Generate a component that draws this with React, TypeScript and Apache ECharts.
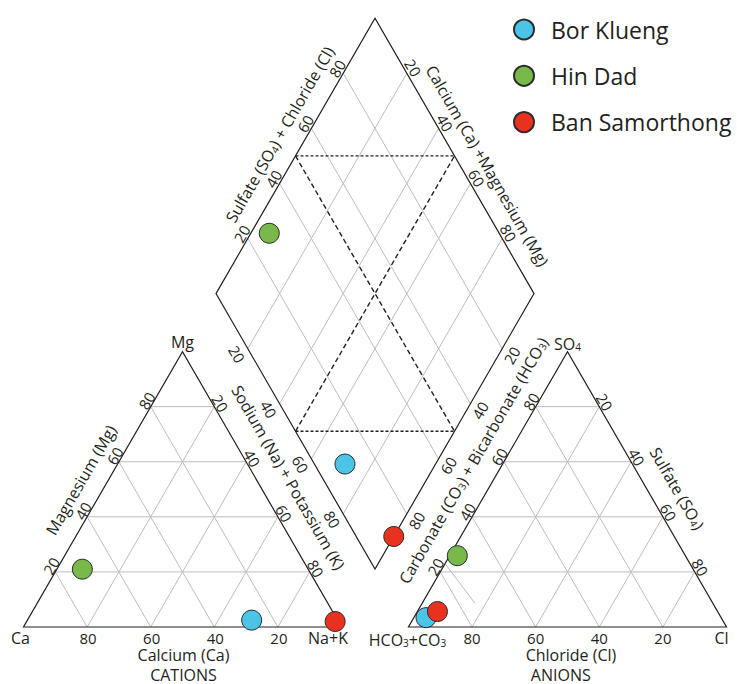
import React, { useEffect, useRef } from "react";
import * as echarts from "echarts";

// ---------- data (percent of meq) ----------
const SAMPLES = ["Bor Klueng", "Hin Dad", "Ban Samorthong"];
const COLORS = ["#4cc4e8", "#79b84a", "#e8321f"];

// cation triangle
const CATION_CA = [27, 71, 1];
const CATION_MG = [2.5, 21, 2];
const CATION_NAK = [70.5, 8, 97];

// anion triangle
const ANION_HCO3 = [92.8, 71.7, 88.1];
const ANION_SO4 = [3.4, 25.9, 5.6];
const ANION_CL = [3.8, 2.4, 6.3];

// diamond (Na+K %, SO4+Cl %)
const DIAMOND_NAK = [71.5, 5.8, 100];
const DIAMOND_SO4CL = [9.6, 27.7, 11.8];

const GRID_TICKS = [20, 40, 60, 80];

// stray grey segment in the anion triangle of the original figure [HCO3, SO4, Cl]
const ANION_STRAY_FROM = [77, 23, 0];
const ANION_STRAY_TO = [74.8, 8.7, 16.5];

// ---------- layout ----------
const GAP = 21.07; // gap between triangles, in triangle-side percent
const H = Math.sqrt(3) / 2;
const R0 = 100 + GAP; // x of the anion triangle's left vertex
const B = [100 + GAP / 2, (GAP / 2) * Math.sqrt(3)]; // diamond bottom vertex
const L = [B[0] - 50, B[1] + 100 * H]; // diamond left vertex

const cat = (ca: number, mg: number, nak: number) => [nak + mg / 2, mg * H];
const an = (hco3: number, so4: number, cl: number) => [R0 + cl + so4 / 2, so4 * H];
const dia = (nak: number, s: number) => [L[0] + 0.5 * (s + nak), L[1] + H * (s - nak)];

const FONT = "'Open Sans', 'Noto Sans', sans-serif";
const INK = "#231f20";
const DEG = Math.PI / 180;

const RICH = {
  a: { fontSize: 16, fontFamily: FONT, fill: INK, lineHeight: 18, verticalAlign: "bottom" },
  s: { fontSize: 10, fontFamily: FONT, fill: INK, lineHeight: 5, verticalAlign: "bottom" },
};

type TextSpec = { t: string; at: number[]; dx: number; dy: number; rot: number; size?: number; rich?: boolean };

function buildTexts(): TextSpec[] {
  const out: TextSpec[] = [];
  GRID_TICKS.forEach((v) => {
    const s = String(v);
    // cation triangle
    out.push({ t: s, at: cat(100 - v, v, 0), dx: -4, dy: -6, rot: 60 });
    out.push({ t: s, at: cat(0, 100 - v, v), dx: 6, dy: -3.5, rot: -60 });
    out.push({ t: s, at: cat(v, 0, 100 - v), dx: 1, dy: 10.5, rot: 0 });
    // diamond
    out.push({ t: s, at: dia(v, 0), dx: -10.9, dy: 5.4, rot: -60 });
    out.push({ t: s, at: dia(0, v), dx: -6, dy: -4.7, rot: 60 });
    out.push({ t: s, at: dia(v, 100), dx: 6.3, dy: -5.5, rot: -60 });
    out.push({ t: s, at: dia(100, 100 - v), dx: 9.7, dy: 6.6, rot: 60 });
    // anion triangle
    out.push({ t: s, at: an(100 - v, v, 0), dx: -4.7, dy: -5.1, rot: 60 });
    out.push({ t: s, at: an(0, 100 - v, v), dx: 5.5, dy: -4.7, rot: -60 });
    out.push({ t: s, at: an(v, 0, 100 - v), dx: 0, dy: 10.5, rot: 0 });
  });
  // vertex + axis titles
  out.push({ t: "Ca", at: cat(100, 0, 0), dx: -3, dy: 11, rot: 0, size: 16 });
  out.push({ t: "Na+K", at: cat(0, 0, 100), dx: -13.5, dy: 11, rot: 0, size: 16 });
  out.push({ t: "Mg", at: cat(0, 100, 0), dx: 0, dy: -10, rot: 0, size: 16 });
  out.push({ t: "Calcium (Ca)", at: cat(50, 0, 50), dx: 1, dy: 27.5, rot: 0, size: 16 });
  out.push({ t: "CATIONS", at: cat(50, 0, 50), dx: 1, dy: 47.5, rot: 0, size: 16 });
  out.push({ t: "Magnesium (Mg)", at: cat(50, 50, 0), dx: -22, dy: -9.3, rot: 60, size: 16 });
  out.push({ t: "Sodium (Na) + Potassium (K)", at: cat(0, 50, 50), dx: 26.3, dy: -11.8, rot: -60, size: 16 });

  out.push({ t: "{a|Sulfate (SO}{s|4}{a|) + Chloride (Cl)}", at: dia(0, 50), dx: -16.5, dy: -21.9, rot: 60, rich: true });
  out.push({ t: "Calcium (Ca) +Magnesium (Mg)", at: dia(50, 100), dx: 33, dy: 9.9, rot: -60, size: 16 });
  out.push({ t: "{a|Carbonate (CO}{s|3}{a|) + Bicarbonate (HCO}{s|3}{a|)}", at: dia(100, 50), dx: 18, dy: 28.7, rot: 60, rich: true });

  out.push({ t: "{a|HCO}{s|3}{a|+CO}{s|3}", at: an(100, 0, 0), dx: -1, dy: 12, rot: 0, rich: true });
  out.push({ t: "Cl", at: an(0, 0, 100), dx: -5, dy: 11, rot: 0, size: 16 });
  out.push({ t: "{a|SO}{s|4}", at: an(0, 100, 0), dx: 0, dy: -9, rot: 0, rich: true });
  out.push({ t: "Chloride (Cl)", at: an(50, 0, 50), dx: 3.5, dy: 27.5, rot: 0, size: 16 });
  out.push({ t: "ANIONS", at: an(50, 0, 50), dx: -6.7, dy: 47.5, rot: 0, size: 16 });
  out.push({ t: "{a|Sulfate (SO}{s|4}{a|)}", at: an(0, 50, 50), dx: 31, dy: -1.3, rot: -60, rich: true });
  return out;
}

export default function App() {
  const ref = useRef<HTMLDivElement>(null);

  useEffect(() => {
    if (!ref.current) return;
    const chart = echarts.init(ref.current, undefined, { renderer: "svg" });
    const texts = buildTexts();

    const renderFrame = (_params: any, api: any) => {
      const P = (d: number[]) => api.coord(d);
      const children: any[] = [];
      const grid = { stroke: "#bdbdbd", lineWidth: 1 };
      const seg = (a: number[], b: number[], style: any) => {
        const p = P(a);
        const q = P(b);
        children.push({ type: "line", shape: { x1: p[0], y1: p[1], x2: q[0], y2: q[1] }, style });
      };
      GRID_TICKS.forEach((v) => {
        // cation grid
        seg(cat(100 - v, v, 0), cat(0, v, 100 - v), grid);
        seg(cat(100 - v, 0, v), cat(0, 100 - v, v), grid);
        seg(cat(v, 0, 100 - v), cat(v, 100 - v, 0), grid);
        // anion grid
        seg(an(100 - v, v, 0), an(0, v, 100 - v), grid);
        seg(an(100 - v, 0, v), an(0, 100 - v, v), grid);
        seg(an(v, 0, 100 - v), an(v, 100 - v, 0), grid);
        // diamond grid
        seg(dia(0, v), dia(100, v), grid);
        seg(dia(v, 0), dia(v, 100), grid);
      });
      seg(an(ANION_STRAY_FROM[0], ANION_STRAY_FROM[1], ANION_STRAY_FROM[2]), an(ANION_STRAY_TO[0], ANION_STRAY_TO[1], ANION_STRAY_TO[2]), grid);

      const frame = { stroke: INK, lineWidth: 1.2, fill: "none" };
      const poly = (pts: number[][]) =>
        children.push({ type: "polygon", shape: { points: pts.map(P) }, style: frame });
      poly([cat(100, 0, 0), cat(0, 0, 100), cat(0, 100, 0)]);
      poly([an(100, 0, 0), an(0, 0, 100), an(0, 100, 0)]);
      poly([dia(0, 0), dia(0, 100), dia(100, 100), dia(100, 0)]);

      const dotH = { stroke: INK, lineWidth: 1.4, lineDash: [3, 2] };
      const dashD = { stroke: INK, lineWidth: 1.4, lineDash: [5, 3] };
      seg(dia(0, 50), dia(50, 100), dotH);
      seg(dia(50, 0), dia(100, 50), dotH);
      seg(dia(0, 50), dia(100, 50), dashD);
      seg(dia(50, 0), dia(50, 100), dashD);

      texts.forEach((tx) => {
        const p = P(tx.at);
        const fs = tx.size || 15;
        const style: any = {
          text: tx.t,
          fill: INK,
          fontFamily: FONT,
          fontSize: fs,
          lineHeight: fs,
          align: "center",
          verticalAlign: "middle",
        };
        if (tx.rich) style.rich = RICH;
        children.push({ type: "text", x: p[0] + tx.dx, y: p[1] + tx.dy, rotation: tx.rot * DEG, style, z2: 10 });
      });
      return { type: "group", children };
    };

    const sampleSeries = SAMPLES.map((name, i) => ({
      name,
      type: "scatter",
      symbol: "circle",
      symbolSize: 20,
      z: 5,
      itemStyle: { color: COLORS[i], borderColor: "#2b2b2b", borderWidth: 1, opacity: 1 },
      data: [
        cat(CATION_CA[i], CATION_MG[i], CATION_NAK[i]),
        an(ANION_HCO3[i], ANION_SO4[i], ANION_CL[i]),
        dia(DIAMOND_NAK[i], DIAMOND_SO4CL[i]),
      ],
    }));

    const kx = 3.18;
    chart.setOption({
      animation: false,
      grid: { left: 0, right: 0, top: 0, bottom: 0 },
      xAxis: { type: "value", min: -23.5 / kx, max: (737 - 23.5) / kx, show: false },
      yAxis: { type: "value", min: (627 - 684) / kx, max: 627 / kx, show: false },
      legend: {
        data: SAMPLES,
        orient: "vertical",
        left: 508,
        top: 13,
        padding: 5,
        itemWidth: 20,
        itemHeight: 20,
        itemGap: 23.3,
        icon: "circle",
        textStyle: { fontSize: 23, fontFamily: FONT, color: INK, lineHeight: 20, padding: [0, 0, 0, 12] },
      },
      series: [
        {
          type: "custom",
          name: "frame",
          renderItem: renderFrame,
          data: [[0, 0]],
          silent: true,
          clip: false,
          z: 1,
        },
        ...sampleSeries,
      ],
    });
    return () => chart.dispose();
  }, []);

  return (
    <div
      ref={ref}
      style={{ position: "fixed", left: 0, top: 0, width: 737, height: 684, background: "#fff" }}
    />
  );
}
